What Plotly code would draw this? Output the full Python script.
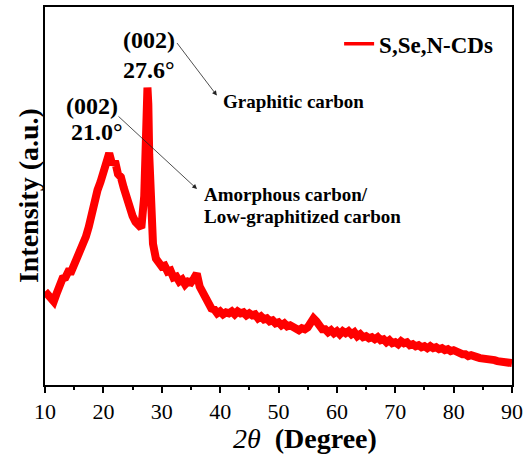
import plotly.graph_objects as go

two_theta = [
    10.0, 10.5, 11.0, 11.5, 12.0, 12.5, 13.0, 13.5, 14.0, 14.5,
    15.0, 15.5, 16.0, 16.5, 17.0, 17.5, 18.0, 18.5, 19.0, 19.5,
    20.0, 20.5, 21.0, 21.5, 22.0, 22.5, 23.0, 23.5, 24.0, 24.5,
    25.0, 25.5, 26.0, 26.5, 27.0, 27.2, 27.4, 27.55, 27.7, 27.85,
    28.0, 28.2, 28.5, 29.0, 29.5, 30.0, 30.5, 31.0, 31.5, 32.0,
    32.5, 33.0, 33.5, 34.0, 34.5, 35.0, 35.5, 36.0, 36.5, 37.0,
    37.5, 38.0, 38.5, 39.0, 39.5, 40.0, 40.5, 41.0, 41.5, 42.0,
    42.5, 43.0, 43.5, 44.0, 44.5, 45.0, 45.5, 46.0, 46.5, 47.0,
    47.5, 48.0, 48.5, 49.0, 49.5, 50.0, 50.5, 51.0, 51.5, 52.0,
    52.5, 53.0, 53.5, 54.0, 54.5, 55.0, 55.5, 56.0, 56.5, 57.0,
    57.5, 58.0, 58.5, 59.0, 59.5, 60.0, 60.5, 61.0, 61.5, 62.0,
    62.5, 63.0, 63.5, 64.0, 64.5, 65.0, 65.5, 66.0, 66.5, 67.0,
    67.5, 68.0, 68.5, 69.0, 69.5, 70.0, 70.5, 71.0, 71.5, 72.0,
    72.5, 73.0, 73.5, 74.0, 74.5, 75.0, 75.5, 76.0, 76.5, 77.0,
    77.5, 78.0, 78.5, 79.0, 79.5, 80.0, 80.5, 81.0, 81.5, 82.0,
    82.5, 83.0, 83.5, 84.0, 84.5, 85.0, 85.5, 86.0, 86.5, 87.0,
    87.5, 88.0, 88.5, 89.0, 89.5, 90.0,
]

intensity = [
    94, 90, 89, 84, 92, 101, 107, 108, 114, 114,
    121, 123, 131, 137, 149, 159, 174, 182, 196, 204,
    214, 221, 233, 222, 225, 212, 209, 198, 188, 176,
    170, 164, 161, 158, 190, 240, 285, 299, 282, 232,
    195, 160, 142, 127, 124, 119, 120, 114, 115, 108,
    109, 104, 106, 101, 104, 103, 107, 112, 99, 93,
    85, 82, 77, 76, 72, 74, 71, 73, 72, 74,
    71, 74, 72, 73, 70, 72, 70, 71, 67, 69,
    66, 67, 64, 65, 62, 63, 60, 62, 59, 60,
    58, 58, 55, 57, 56, 58, 62, 67, 64, 59,
    56, 56, 53, 55, 52, 54, 51, 54, 52, 54,
    51, 53, 49, 51, 48, 49, 47, 48, 46, 48,
    45, 46, 43, 45, 42, 43, 41, 44, 42, 43,
    40, 41, 39, 40, 38, 39, 37, 39, 37, 38,
    36, 37, 35, 36, 34, 35, 33, 33, 31, 31,
    29, 30, 28, 28, 27, 27, 26, 26, 25, 25,
    24, 24, 23, 23, 22, 22,
]

series_name = "S,Se,N-CDs"
x_ticks = [10, 20, 30, 40, 50, 60, 70, 80, 90]

FONT = "Liberation Serif"
RED = "#ff0000"

fig = go.Figure()
fig.add_trace(go.Scatter(
    x=two_theta, y=intensity, mode="lines",
    line=dict(color=RED, width=8), showlegend=False, hoverinfo="skip",
))
fig.add_trace(go.Scatter(
    x=[None], y=[None], mode="lines", name="<b>" + series_name + "</b>",
    line=dict(color=RED, width=3.5), showlegend=True,
))

L, R, T, B = 45, 13, 5, 77
W, H = 528, 462
pw, ph = W - L - R, H - T - B


def px(x):
    return (x - L) / pw


def py(y):
    return (H - B - y) / ph


annotations = [
    dict(text="<b>(002)</b>", x=px(150), y=py(38)),
    dict(text="<b>27.6°</b>", x=px(150), y=py(68)),
    dict(text="<b>(002)</b>", x=px(92), y=py(105)),
    dict(text="<b>21.0°</b>", x=px(97), y=py(131)),
]
ann = []
for a in annotations:
    ann.append(dict(xref="paper", yref="paper", showarrow=False,
                    xanchor="center", yanchor="middle",
                    font=dict(family=FONT, size=24, color="black"), **a))
for txt, x0, y0 in [("<b>Graphitic carbon</b>", 222, 100),
                    ("<b>Amorphous carbon/</b>", 203, 193),
                    ("<b>Low-graphitized carbon</b>", 203, 216)]:
    ann.append(dict(xref="paper", yref="paper", showarrow=False,
                    xanchor="left", yanchor="middle", text=txt,
                    x=px(x0), y=py(y0),
                    font=dict(family=FONT, size=19, color="black")))
for hx, hy, tx, ty in [(218, 94, 177, 40), (198, 188, 118, 114)]:
    ann.append(dict(xref="paper", yref="paper", text="", showarrow=True,
                    x=px(hx), y=py(hy), ax=tx - hx, ay=ty - hy,
                    arrowhead=2, arrowsize=1.2, arrowwidth=0.8,
                    arrowcolor="#222"))
ann.append(dict(xref="paper", yref="paper", showarrow=False,
                x=px(307), y=py(439), xanchor="center", yanchor="middle",
                text="<i>2θ</i>  <b>(Degree)</b>",
                font=dict(family=FONT, size=28, color="black")))
ann.append(dict(xref="paper", yref="paper", showarrow=False,
                x=px(28), y=py(195), xanchor="center", yanchor="middle",
                textangle=-90, text="<b>Intensity (a.u.)</b>",
                font=dict(family=FONT, size=28, color="black")))

fig.update_layout(
    width=W, height=H,
    margin=dict(l=L, r=R, t=T, b=B),
    paper_bgcolor="white", plot_bgcolor="white",
    font=dict(family=FONT, color="black"),
    annotations=ann,
    legend=dict(x=px(341), y=py(42), xanchor="left", yanchor="middle",
                bgcolor="rgba(0,0,0,0)", borderwidth=0,
                font=dict(family=FONT, size=23, color="black")),
    xaxis=dict(range=[10, 90], tickvals=x_ticks,
               ticktext=[str(v) for v in x_ticks],
               ticks="outside", ticklen=6, tickwidth=1.5, tickcolor="black",
               minor=dict(dtick=5, ticks="outside", ticklen=3.5,
                          tickwidth=1.5, tickcolor="black"),
               showline=True, linecolor="black", linewidth=1.8, mirror=True,
               showgrid=False, zeroline=False,
               tickfont=dict(family=FONT, size=22, color="black")),
    yaxis=dict(range=[0, 380], showticklabels=False, ticks="",
               showline=True, linecolor="black", linewidth=1.8, mirror=True,
               showgrid=False, zeroline=False),
)

fig.write_html("out.html",
               config={"displayModeBar": False},
               post_script="document.body.style.margin='0';"
                           "document.body.style.overflow='hidden';")
